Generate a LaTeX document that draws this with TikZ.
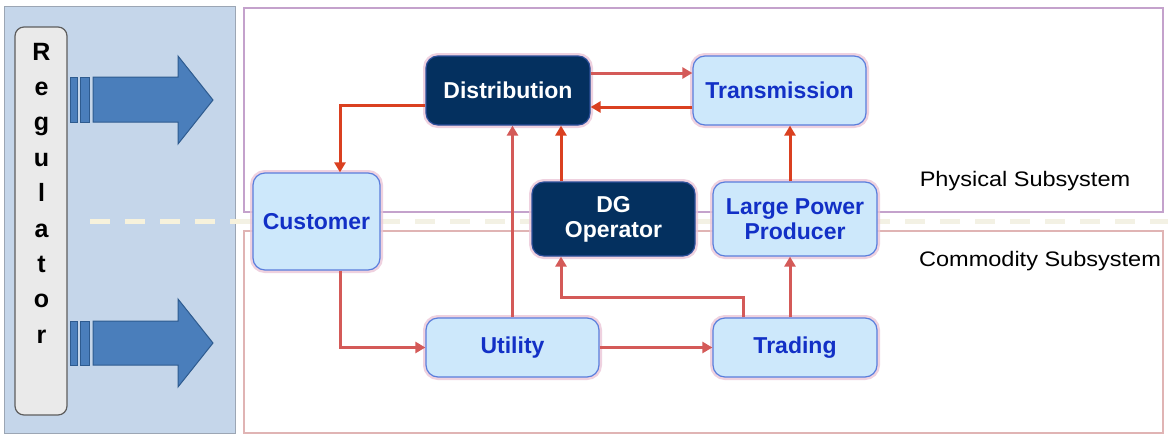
\documentclass[tikz,border=0pt]{standalone}
\usepackage{fontspec}
\setmainfont{Liberation Sans}
\usetikzlibrary{arrows.meta}
\definecolor{panelc}{HTML}{C5D6EA}
\definecolor{panelb}{HTML}{9CA6B4}
\definecolor{bluearrow}{HTML}{4A7EBB}
\definecolor{bluearrowb}{HTML}{2E5B8F}
\definecolor{regfill}{HTML}{EAEAEA}
\definecolor{regdraw}{HTML}{5E5E5E}
\definecolor{navy}{HTML}{04305F}
\definecolor{navyb}{HTML}{2C4F9A}
\definecolor{lightfill}{HTML}{CDE8FB}
\definecolor{lightb}{HTML}{5A7EDC}
\definecolor{nodetext}{HTML}{1230C6}
\definecolor{strongred}{HTML}{DA4020}
\definecolor{softred}{HTML}{D45A58}
\definecolor{physb}{HTML}{C4A2CC}
\definecolor{commb}{HTML}{E0B4B4}
\definecolor{dashc}{HTML}{F7F2DC}
\definecolor{dashfaint}{HTML}{F3F1E4}
\definecolor{glow}{HTML}{EBC6D8}
\tikzset{
  basebox/.style={rectangle, rounded corners=12pt, inner sep=0pt, line width=1.2pt,
    font={\fontsize{23}{25}\selectfont\bfseries}, align=center,
    preaction={draw=glow, line width=6pt, opacity=0.8}},
  darkbox/.style={basebox, fill=navy, draw=navyb, text=white},
  lightbox/.style={basebox, fill=lightfill, draw=lightb, text=nodetext},
  strongarrow/.style={draw=strongred, line width=3pt, -{Triangle[length=10pt,width=11pt]}},
  softarrow/.style={draw=softred, line width=3pt, -{Triangle[length=10pt,width=11pt]}},
  bigarrow/.style={fill=bluearrow, draw=bluearrowb, line width=1pt},
  sublabel/.style={font={\fontsize{21}{24}\selectfont}, text=black, xscale=1.12, inner sep=0pt},
  regletter/.style={font={\fontsize{25}{28}\selectfont\bfseries}, text=black, anchor=base, inner sep=0pt}
}
\begin{document}
\begin{tikzpicture}[x=1pt,y=-1pt]
\useasboundingbox (0,0) rectangle (1172,434);
\fill[white] (0,0) rectangle (1172,434);
% left panel
\draw[fill=panelc, draw=panelb, line width=1pt] (4,6) rectangle (235,433);
% subsystem frames
\draw[draw=physb, line width=1.5pt] (244,8) rectangle (1163,212);
\draw[draw=commb, line width=1.5pt] (244,231) rectangle (1163,433);
% dashed separator
\draw[dashc, line width=5pt, dash pattern=on 20pt off 15pt] (90,221) -- (240,221);
\draw[dashfaint, line width=5pt, dash pattern=on 20pt off 15pt] (240,221) -- (1168,221);
% regulator
\node[rectangle, rounded corners=9pt, fill=regfill, draw=regdraw, line width=1.2pt,
  minimum width=52pt, minimum height=388pt, inner sep=0pt] (reg) at (41,221) {};
\foreach \l [count=\i] in {R,e,g,u,l,a,t,o,r} {
  \node[regletter] (r\i) at (41.5,{60+35.4*(\i-1)}) {\l};
}
% blue arrows
\filldraw[bigarrow] (70,77) rectangle (77,122);
\filldraw[bigarrow] (80,77) rectangle (89,122);
\filldraw[bigarrow] (93,77) -- (178,77) -- (178,56) -- (213,100) -- (178,144) -- (178,122) -- (93,122) -- cycle;
\filldraw[bigarrow] (70,321) rectangle (77,365);
\filldraw[bigarrow] (80,321) rectangle (89,365);
\filldraw[bigarrow] (93,321) -- (178,321) -- (178,299) -- (213,343) -- (178,387) -- (178,365) -- (93,365) -- cycle;
% labels
\node[sublabel] (phys) at (1025,181) {Physical Subsystem};
\node[sublabel] (comm) at (1040,261) {Commodity Subsystem};
% nodes
\node[darkbox, minimum width=164pt, minimum height=69pt] (dist) at (508,90.5) {Distribution};
\node[lightbox, minimum width=173pt, minimum height=69pt] (trans) at (779.5,90.5) {Transmission};
\node[lightbox, minimum width=127pt, minimum height=97pt] (cust) at (316.5,221.5) {Customer};
\node[darkbox, minimum width=163pt, minimum height=74pt] (dg) at (613.5,219) {DG\\Operator};
\node[lightbox, minimum width=164pt, minimum height=74pt] (lpp) at (795,219) {Large Power\\Producer};
\node[lightbox, minimum width=173pt, minimum height=59pt] (util) at (512.5,347.5) {Utility};
\node[lightbox, minimum width=164pt, minimum height=59pt] (trad) at (795,347.5) {Trading};
% connectors
\draw[softarrow] ([yshift=17.5pt]dist.east) -- ([yshift=17.5pt]trans.west);
\draw[strongarrow] ([yshift=-16.5pt]trans.west) -- ([yshift=-16.5pt]dist.east);
\draw[strongarrow] ([yshift=-14.5pt]dist.west) -| ([xshift=23.5pt]cust.north);
\draw[strongarrow] ([xshift=-52.5pt]dg.north) -- ([xshift=-52.5pt]dg.north |- dist.south);
\draw[softarrow] (util.north) -- (util.north |- dist.south);
\draw[strongarrow] ([xshift=-5pt]lpp.north) -- ([xshift=-5pt]lpp.north |- trans.south);
\draw[softarrow] ([xshift=23.5pt]cust.south) |- (util.west);
\draw[softarrow] (util.east) -- (trad.west);
\draw[softarrow] ([xshift=-52pt]trad.north) -- ++(0,-20) -| ([xshift=-52.5pt]dg.south);
\draw[softarrow] ([xshift=-5pt]trad.north) -- ([xshift=-5pt]lpp.south);
\end{tikzpicture}
\end{document}
